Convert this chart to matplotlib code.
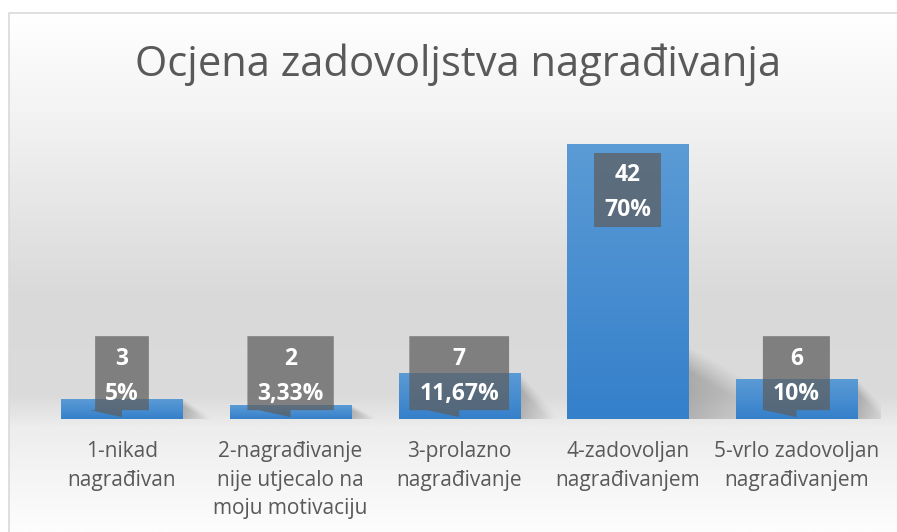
import numpy as np
import matplotlib.pyplot as plt
from matplotlib.patches import Polygon
from matplotlib.colors import LinearSegmentedColormap

categories = ["1-nikad\nnagrađivan",
              "2-nagrađivanje\nnije utjecalo na\nmoju motivaciju",
              "3-prolazno\nnagrađivanje",
              "4-zadovoljan\nnagrađivanjem",
              "5-vrlo zadovoljan\nnagrađivanjem"]
counts = [3, 2, 7, 42, 6]
percents = ["5%", "3,33%", "11,67%", "70%", "10%"]
title = "Ocjena zadovoljstva nagrađivanja"

W, H = 897, 532
plt.rcParams['font.family'] = ['Open Sans', 'DejaVu Sans']

fig = plt.figure(figsize=(W / 100, H / 100), dpi=100)

# background gradient (chart area), in pixel coords
bg = fig.add_axes([0, 0, 1, 1])
bg.set_xlim(0, W)
bg.set_ylim(H, 0)
bg.axis('off')
stops = [(0.0, '#ffffff'), (0.22, '#f1f1f1'), (0.55, '#d9d9d9'),
         (0.74, '#dbdbdb'), (0.80, '#ededed'), (1.0, '#fdfdfd')]
cmap = LinearSegmentedColormap.from_list('bg', stops)
grad = np.linspace(0, 1, 400).reshape(-1, 1)
bg.imshow(grad, cmap=cmap, extent=[9, W, H, 13], aspect='auto', zorder=0)
bg.plot([9, 9, W], [H, 13, 13], color='#d9d9d9', lw=1.2, zorder=1)

bg.text(458, 65, title, ha='center', va='center', fontsize=30,
        color='#595959')

# main axes
ax = fig.add_axes([37.7 / W, (H - 419) / H, 843 / W, 275 / H])
ax.patch.set_alpha(0)
for s in ax.spines.values():
    s.set_visible(False)

x = np.arange(len(counts))
bw = 0.72

# soft shadows to the right of the bars
uu, vv = np.meshgrid(np.linspace(0, 1, 120), np.linspace(0, 1, 120))
for xi, h in zip(x, counts):
    xr = xi + bw / 2
    sh = min(h, 11)
    ln = 0.14 + 0.015 * h
    edge = 1 - uu
    a = np.clip((edge - vv) / 0.35, 0, 1) * (1 - uu) ** 1.1 * 0.36
    rgba = np.zeros(uu.shape + (4,))
    rgba[..., :3] = 0.33
    rgba[..., 3] = a
    ax.imshow(rgba, extent=[xr, xr + ln, 0, sh], origin='lower',
              aspect='auto', zorder=1, interpolation='bilinear')

# bars with vertical blue gradient
bar_cmap = LinearSegmentedColormap.from_list('bar', ['#3580cb', '#5b9bd5'])
bars = ax.bar(x, counts, width=bw, color='none', zorder=2)
for b in bars:
    bx, bwid, bh = b.get_x(), b.get_width(), b.get_height()
    ax.imshow(np.linspace(0, 1, 100).reshape(-1, 1), cmap=bar_cmap,
              extent=[bx, bx + bwid, 0, bh], aspect='auto', origin='lower',
              zorder=2)
ax.set_xlim(-0.5, 4.5)
ax.set_ylim(0, 42)

ax.set_yticks([])
ax.set_xticks(x)
ax.set_xticklabels(categories, fontsize=15, color='#595959',
                   linespacing=1.47)
ax.tick_params(axis='x', length=0, pad=16)

# data labels (callout boxes drawn around measured text)
fig.canvas.draw()
renderer = fig.canvas.get_renderer()
to_data = ax.transData.inverted()
box_h = 74
for xi, c, p in zip(x, counts, percents):
    ly = c - 7 if c > 20 else 7
    cx, cy = ax.transData.transform((xi, ly))
    tx, ty = to_data.transform((cx, cy - 3))
    t = ax.text(tx, ty, f"{c}\n{p}", ha='center', va='center',
                fontsize=16.5, fontweight='bold', color='white',
                linespacing=1.62, zorder=5)
    ext = t.get_window_extent(renderer)
    half_w = ext.width / 2 + 10
    pts = [(cx - half_w, cy - box_h / 2), (cx - half_w, cy + box_h / 2),
           (cx + half_w, cy + box_h / 2), (cx + half_w, cy - box_h / 2)]
    if c < 12:
        # callout tail pointing down to the bar
        bottom = cy - box_h / 2
        pts = pts + [(cx, bottom), (cx, bottom - 7), (cx - 32, bottom)]
    box = Polygon([to_data.transform(pt) for pt in pts], closed=True,
                  facecolor='#5e5e5e', edgecolor='none', alpha=0.73,
                  zorder=4)
    ax.add_patch(box)

fig.savefig("out.png", dpi=100)
